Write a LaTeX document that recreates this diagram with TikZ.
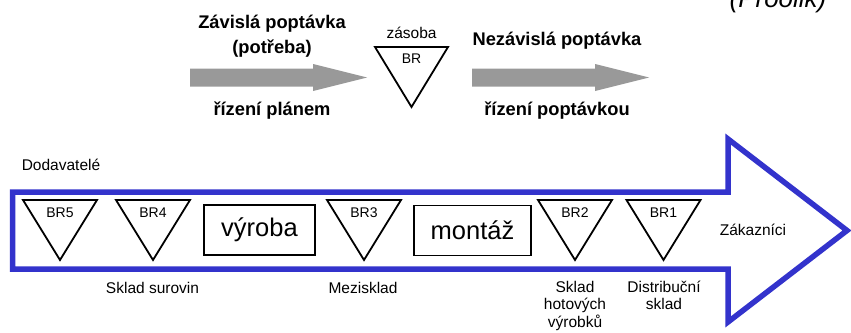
\documentclass[tikz,border=0pt]{standalone}
\usepackage{fontspec}
\setmainfont{Liberation Sans}
\usetikzlibrary{positioning}

\definecolor{flowblue}{RGB}{51,51,204}
\definecolor{flowgray}{RGB}{153,153,153}

\begin{document}
\begin{tikzpicture}[x=1pt, y=-1pt,
    every node/.append style={inner sep=0pt},
    headtext/.style={font=\fontsize{18.3}{25}\selectfont\bfseries, align=center, anchor=base},
    lbl/.style={font=\fontsize{15.5}{17.5}\selectfont, align=center, anchor=base},
    brtext/.style={font=\fontsize{14}{16}\selectfont, anchor=base},
    tri/.style={draw, line width=1.8pt, line join=miter},
    stage/.style={draw, line width=1.8pt, minimum width=111pt, minimum height=50pt,
      font=\fontsize{25.5}{28}\selectfont},
    pipe/.style={draw=flowblue, line width=5.5pt, line join=miter, miter limit=10}]
  \useasboundingbox (0,0) rectangle (851,332);

  % upper part (base = last line)
  \node[font=\fontsize{26}{28}\selectfont\itshape, anchor=base] (autor) at (778,7) {(Proolik)};
  \node[headtext] (zavisla) at (272,53) {Závislá poptávka\\(potřeba)};
  \node[headtext] (planem) at (272,115) {řízení plánem};
  \node[headtext] (nezavisla) at (557,45) {Nezávislá poptávka};
  \node[headtext] (poptavkou) at (557,115) {řízení poptávkou};
  \foreach \x in {190,472}
    \fill[flowgray] (\x,68.5) -- ({\x+123},68.5) -- ({\x+123},64) -- ({\x+177},77.5)
      -- ({\x+123},91) -- ({\x+123},86.5) -- (\x,86.5) -- cycle;
  \draw[tri] (375,47) -- (448,47) -- (411.5,107) -- cycle;
  \node[lbl] (zasoba) at (411.5,38) {zásoba};
  \node[brtext] (br) at (411.5,63) {BR};

  % value chain
  \draw[pipe] (12.5,192) -- (728,192) -- (728,139) -- (847,230.5) -- (728,322)
    -- (728,269) -- (12.5,269) -- cycle;
  \foreach \x/\n/\t in {60/br5/BR5,153/br4/BR4,364/br3/BR3,575/br2/BR2,663.5/br1/BR1}{
    \draw[tri] ({\x-37},200) -- ({\x+37},200) -- (\x,260) -- cycle;
    \node[brtext] (\n) at (\x,217) {\t};
  }
  \node[stage] (vyroba) at (259.5,230) {výroba};
  \node[stage, minimum width=117pt] (montaz) at (472.5,230.5) {montáž};

  \node[lbl] (dodavatele) at (61,170) {Dodavatelé};
  \node[lbl] (zakaznici) at (753,235) {Zákazníci};
  \node[lbl] (surovin) at (152.5,293) {Sklad surovin};
  \node[lbl] (mezisklad) at (363,293) {Mezisklad};
  \node[lbl] (hotove) at (575,327) {Sklad\\hotových\\výrobků};
  \node[lbl] (distribuce) at (664,309.5) {Distribuční\\sklad};
\end{tikzpicture}
\end{document}
